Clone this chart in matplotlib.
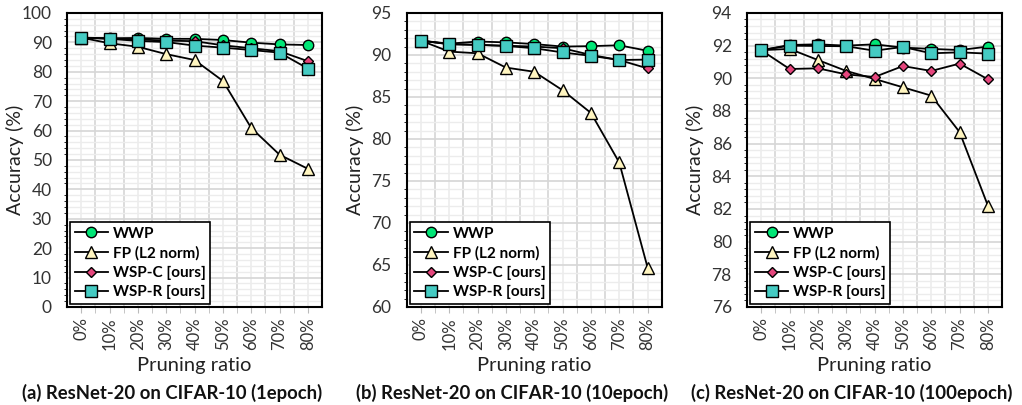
import matplotlib as mpl
import matplotlib.pyplot as plt
from matplotlib.ticker import MultipleLocator

mpl.rcParams.update({
    "font.family": ["Lato", "DejaVu Sans"],
    "font.size": 10,
})

ratios = ["0%", "10%", "20%", "30%", "40%", "50%", "60%", "70%", "80%"]
series_names = ["WWP", "FP (L2 norm)", "WSP-C [ours]", "WSP-R [ours]"]

# (a) 1 epoch
wwp_a = [91.6, 91.4, 91.5, 91.2, 91.2, 90.8, 89.9, 89.3, 89.1]
fp_a = [91.6, 89.7, 88.5, 86.0, 84.0, 76.9, 60.9, 51.8, 47.0]
wspc_a = [91.6, 91.3, 91.0, 90.6, 90.4, 89.0, 88.0, 87.0, 83.6]
wspr_a = [91.6, 91.2, 90.5, 90.1, 88.9, 88.2, 87.4, 86.5, 81.1]

# (b) 10 epoch
wwp_b = [91.7, 91.35, 91.6, 91.5, 91.3, 91.0, 91.05, 91.15, 90.5]
fp_b = [91.7, 90.4, 90.2, 88.5, 88.0, 85.8, 83.1, 77.2, 64.7]
wspc_b = [91.7, 91.3, 91.2, 91.1, 91.0, 90.8, 90.0, 89.4, 88.4]
wspr_b = [91.7, 91.27, 91.2, 91.07, 90.8, 90.3, 89.9, 89.4, 89.45]

# (c) 100 epoch
wwp_c = [91.72, 92.04, 92.08, 92.0, 92.08, 91.88, 91.8, 91.73, 91.94]
fp_c = [91.72, 91.8, 91.12, 90.45, 89.96, 89.45, 88.94, 86.71, 82.2]
wspc_c = [91.72, 90.57, 90.61, 90.24, 90.08, 90.75, 90.45, 90.9, 89.94]
wspr_c = [91.72, 92.0, 91.98, 91.96, 91.69, 91.92, 91.53, 91.59, 91.51]

panels = [
    ("(a) ResNet-20 on CIFAR-10 (1epoch)", [wwp_a, fp_a, wspc_a, wspr_a], (0, 100), 10),
    ("(b) ResNet-20 on CIFAR-10 (10epoch)", [wwp_b, fp_b, wspc_b, wspr_b], (60, 95), 5),
    ("(c) ResNet-20 on CIFAR-10 (100epoch)", [wwp_c, fp_c, wspc_c, wspr_c], (76, 94), 2),
]

styles = [
    dict(marker="o", mfc="#00e676", ms=7.5),
    dict(marker="^", mfc="#fff5c0", ms=8),
    dict(marker="D", mfc="#e5467d", ms=5.5),
    dict(marker="s", mfc="#45cbc3", ms=8.5),
]

fig = plt.figure(figsize=(10.22, 4.05), dpi=100)
lefts = [0.0656, 0.398, 0.731]
width = 0.2495

for left, (caption, data, ylim, step) in zip(lefts, panels):
    ax = fig.add_axes([left, 0.242, width, 0.726])
    x = list(range(len(ratios)))
    for name, vals, st in zip(series_names, data, styles):
        ax.plot(x, vals, color="black", lw=1.3, marker=st["marker"], ms=st["ms"],
                mfc=st["mfc"], mec="black", mew=1.0, label=name, zorder=3)
    ax.set_xlim(-0.5, len(ratios) - 0.5)
    ax.set_ylim(*ylim)
    ax.yaxis.set_major_locator(MultipleLocator(step))
    ax.yaxis.set_minor_locator(MultipleLocator(step / 5))
    ax.set_xticks(x)
    ax.set_xticklabels(ratios, rotation=90)
    ax.set_xticks([i + 0.5 for i in x[:-1]], minor=True)
    ax.tick_params(axis="y", length=0, labelsize=12.5, pad=11, colors="#333333")
    ax.tick_params(axis="x", which="both", length=4, direction="out", color="#bbbbbb",
                   labelsize=12, colors="#333333")
    ax.grid(True, which="minor", axis="x", color="#d6d6d6", lw=1.2)
    ax.grid(True, which="major", axis="x", color="#ececec", lw=1.2)
    ax.grid(True, which="major", axis="y", color="#d6d6d6", lw=1.2)
    ax.grid(True, which="minor", axis="y", color="#ececec", lw=1.0)
    ax.set_axisbelow(True)
    for sp in ax.spines.values():
        sp.set_linewidth(1.5)
        sp.set_color("black")
    ax.set_ylabel("Accuracy (%)", fontsize=14, color="#222222")
    ax.yaxis.set_label_coords(-0.168, 0.5)
    ax.set_xlabel("Pruning ratio", fontsize=14.5, color="#222222", labelpad=5)
    leg = ax.legend(loc="lower left", frameon=True, fancybox=False,
                    borderaxespad=0.2, handlelength=2.2, handletextpad=0.3,
                    labelspacing=0.35, borderpad=0.3, prop={"weight": "bold", "size": 11})
    leg.get_frame().set_edgecolor("black")
    leg.get_frame().set_linewidth(1.2)
    leg.get_frame().set_alpha(1)
    fig.text(left + width / 2 - 0.022, 0.03, caption, ha="center", va="center",
             fontsize=13.3, fontweight="bold", color="#111111")

fig.savefig("out.png", dpi=100)
